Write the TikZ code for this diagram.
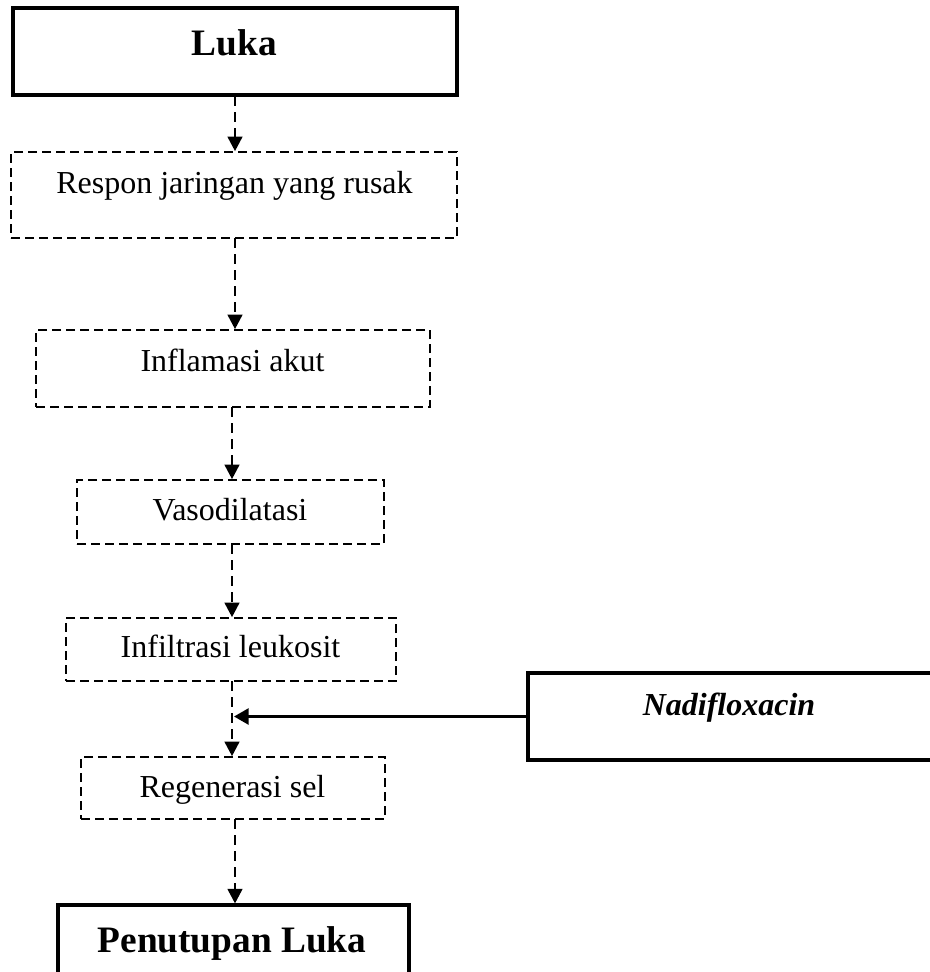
\documentclass[tikz,border=0pt]{standalone}
\usepackage{fontspec}
\setmainfont{Liberation Serif}
\usetikzlibrary{arrows.meta,fit}
\begin{document}
\begin{tikzpicture}[x=0.75pt,y=-0.75pt,
  solidbox/.style={draw=black,line width=2.3pt,inner sep=0pt,fill=white},
  dashbox/.style={draw=black,line width=1.2pt,inner sep=0pt,dash pattern=on 6.5pt off 4pt},
  flowarrow/.style={line width=2pt,dash pattern=on 7.5pt off 4.5pt,-{Triangle[length=11pt,width=11pt]}},
  solidarrow/.style={line width=2pt,-{Triangle[length=11pt,width=12pt]}},
  txt/.style={inner sep=0pt,anchor=base,font=\fontsize{24pt}{28pt}\selectfont},
  bigtxt/.style={inner sep=0pt,anchor=base,font=\fontsize{28pt}{32pt}\selectfont\bfseries},
  ittxt/.style={inner sep=0pt,anchor=base,font=\fontsize{24pt}{28pt}\selectfont\bfseries\itshape}]
\useasboundingbox (0,0) rectangle (930,972);
\clip (0,0) rectangle (930,972);
% boxes
\node[solidbox,fit={(13,8)(457,95)}] (b1) {};
\node[dashbox,fit={(11,152)(457,238)}] (b2) {};
\node[dashbox,fit={(36,330)(430,407)}] (b3) {};
\node[dashbox,fit={(77,480)(384,544)}] (b4) {};
\node[dashbox,fit={(66,618)(396,681)}] (b5) {};
\node[dashbox,fit={(81,757)(385,819)}] (b6) {};
\node[solidbox,fit={(58,905)(409,1000)}] (b7) {};
\node[solidbox,fit={(528,673)(960,760)}] (b8) {};
% texts
\node[bigtxt] (t1) at (234.5,55) {Luka};
\node[txt] (t2) at (234.5,193) {Respon jaringan yang rusak};
\node[txt] (t3) at (232.5,371) {Inflamasi akut};
\node[txt] (t4) at (230,520) {Vasodilatasi};
\node[txt] (t5) at (230.5,657.5) {Infiltrasi leukosit};
\node[txt] (t6) at (232.5,797) {Regenerasi sel};
\node[bigtxt] (t7) at (232,952) {Penutupan Luka};
\node[ittxt] (t8) at (729,715) {Nadifloxacin};
% connectors
\coordinate (m) at (234,716.5);
\draw[flowarrow] (235,96) coordinate (s1) -- (s1 |- b2.north);
\draw[flowarrow] (235,238) coordinate (s2) -- (s2 |- b3.north);
\draw[flowarrow] (232,407) coordinate (s3) -- (s3 |- b4.north);
\draw[flowarrow] (232,544) coordinate (s4) -- (s4 |- b5.north);
\draw[flowarrow] (232,681) coordinate (s5) -- (s5 |- b6.north);
\draw[flowarrow] (235,819) coordinate (s6) -- (s6 |- b7.north);
\draw[solidarrow] (b8.west) -- (m);
\end{tikzpicture}
\end{document}
